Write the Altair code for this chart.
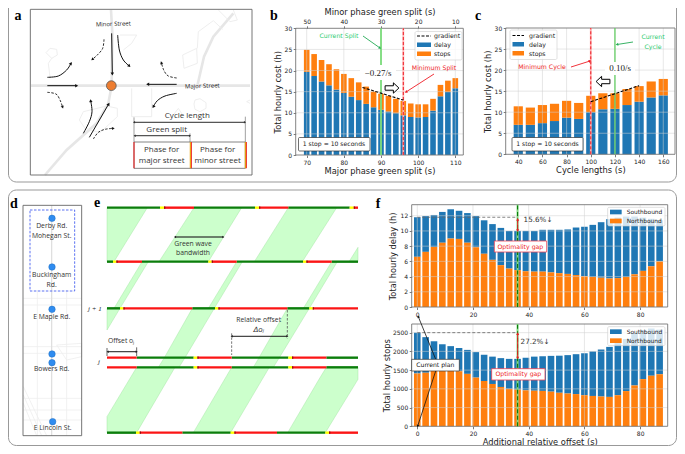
import math
import altair as alt
import pandas as pd

# ---------- chart values ----------
b_major = [70, 72, 74, 76, 78, 80, 82, 84, 86, 88, 90, 92, 94, 96, 98, 100, 102, 104, 106, 108, 110]
b_delay = [19.7, 18.7, 17.4, 16.5, 15.5, 14.7, 13.8, 13.0, 12.1, 11.3, 10.7, 10.3, 9.9, 9.4, 9.0, 8.9, 9.0, 10.5, 13.9, 14.9, 15.8]
b_total = [24.9, 23.9, 22.5, 21.5, 20.3, 19.2, 18.2, 17.2, 16.2, 15.0, 14.5, 14.0, 13.3, 12.8, 12.2, 12.0, 12.0, 13.3, 16.6, 17.6, 18.2]
b_minor_ticks = [50, 40, 30, 20, 10]
b_grad_x = [85, 96]
b_grad_y = [16.0, 13.0]

c_cycle = [40, 50, 60, 70, 80, 90, 100, 110, 120, 130, 140, 150, 160]
c_delay = [7.0, 7.0, 7.4, 7.9, 8.7, 8.4, 10.0, 10.7, 10.8, 11.7, 12.5, 13.5, 14.0]
c_total = [11.4, 11.1, 11.7, 12.0, 12.7, 12.2, 13.9, 14.5, 14.5, 15.5, 16.2, 17.3, 17.9]
c_grad_x = [100, 140]
c_grad_y = [12.5, 16.3]

f_offset = [0, 3, 6, 9, 12, 15, 18, 21, 24, 27, 30, 33, 36, 39, 42, 45, 48, 51, 54, 57, 60, 63, 66, 69, 72, 75, 78, 81, 84, 87]
f_delay_total = [11.8, 11.95, 12.1, 12.5, 12.85, 12.65, 12.35, 11.95, 11.4, 10.9, 10.4, 10.0, 10.0, 10.0, 10.0, 10.15, 10.15, 10.15, 10.2, 10.45, 10.55, 10.8, 11.15, 11.55, 11.75, 11.9, 11.9, 11.75, 11.6, 11.4]
f_delay_north = [6.6, 7.25, 7.9, 8.45, 9.0, 8.95, 8.45, 7.85, 7.0, 6.2, 5.5, 5.05, 4.85, 4.7, 4.65, 4.65, 4.55, 4.45, 4.35, 4.2, 4.05, 3.95, 3.85, 3.75, 3.8, 3.95, 4.3, 4.75, 5.35, 6.0]
f_stops_total = [2500, 2380, 2270, 2190, 2140, 2090, 2040, 1980, 1910, 1860, 1820, 1800, 1800, 1830, 1860, 1870, 1880, 1885, 1900, 1925, 1950, 2000, 2050, 2120, 2220, 2330, 2480, 2570, 2610, 2580]
f_stops_north = [1410, 1430, 1480, 1490, 1480, 1470, 1400, 1300, 1210, 1130, 1050, 1000, 980, 960, 950, 945, 925, 895, 875, 860, 830, 810, 795, 785, 830, 940, 1090, 1260, 1350, 1390]

# ---------- styles ----------
BLUE, ORANGE = "#1f77b4", "#ff7f0e"
SANS, HUM, SERIF = "DejaVu Sans", "Open Sans", "Liberation Serif"
FRAME = "#777777"
W, H, M = 669, 438, 8

# The figure's schematic parts share one scale in picture pixels.
DX = alt.Scale(domain=[0, 685], range=[-M, 685 - M], nice=False, zero=False)
DY = alt.Scale(domain=[0, 454], range=[-M, 454 - M], nice=False, zero=False)
layers = []


def ex(f="x"):
    return alt.X(f + ":Q", scale=DX, axis=None)


def ey(f="y"):
    return alt.Y(f + ":Q", scale=DY, axis=None)


def rects(rows, fill=None, stroke=None, sw=0.8, opacity=1.0, radius=0, dash=None):
    df = pd.DataFrame(rows, columns=["x", "y", "x2", "y2"])
    kw = dict(fillOpacity=opacity if fill else 0, fill=fill or "#ffffff", cornerRadius=radius, strokeWidth=sw)
    if stroke:
        kw["stroke"] = stroke
    if dash:
        kw["strokeDash"] = dash
    layers.append(alt.Chart(df).mark_rect(**kw).encode(x=ex(), y=ey(), x2="x2:Q", y2="y2:Q"))


def lines(paths, color="#000000", sw=1.0, dash=None, interp="linear", opacity=1.0):
    rows = []
    for k, p in enumerate(paths):
        for i, (x, y) in enumerate(p):
            rows.append(dict(k=k, i=i, x=x, y=y))
    kw = dict(color=color, strokeWidth=sw, interpolate=interp, opacity=opacity)
    if dash:
        kw["strokeDash"] = dash
    layers.append(alt.Chart(pd.DataFrame(rows)).mark_line(**kw).encode(
        x=ex(), y=ey(), detail="k:N", order="i:Q"))


def heads(pairs, color="#000000", size=12):
    rows = []
    for (x0, y0), (x1, y1) in pairs:
        a = math.degrees(math.atan2(x1 - x0, -(y1 - y0))) % 360
        rows.append(dict(x=x1, y=y1, a=a))
    layers.append(alt.Chart(pd.DataFrame(rows)).mark_point(
        shape="triangle-up", filled=True, color=color, size=size, opacity=1).encode(
        x=ex(), y=ey(), angle=alt.Angle("a:Q", scale=None)))


def arrow(paths, color="#000000", sw=0.9, size=12, dash=None, interp="linear"):
    lines(paths, color, sw, dash, interp)
    heads([(p[-2], p[-1]) for p in paths], color, size)


def texts(rows, size=7, color="#222222", font=SANS, align="center", **kw):
    df = pd.DataFrame(rows, columns=["x", "y", "t"])
    layers.append(alt.Chart(df).mark_text(fontSize=size, color=color, font=font, align=align,
                                          baseline="middle", **kw).encode(x=ex(), y=ey(), text="t:N"))


def hollow(x, y, angle):
    path = "M-1,-0.32 L0.2,-0.32 L0.2,-0.75 L1,0 L0.2,0.75 L0.2,0.32 L-1,0.32 Z"
    df = pd.DataFrame([dict(x=x, y=y, a=angle)])
    layers.append(alt.Chart(df).mark_point(shape=path, fill="#ffffff", stroke="#000000", strokeWidth=1.0,
                                           size=190, opacity=1, filled=False, fillOpacity=1).encode(
        x=ex(), y=ey(), angle=alt.Angle("a:Q", scale=None)))


def sc(d0, d1, p0, p1, off):
    return alt.Scale(domain=[d0, d1], range=[p0 - off, p1 - off], nice=False, zero=False, padding=0)


def bars(xs, lo, hi, color, sx, sy, width, xaxis=None, yaxis=None):
    df = pd.DataFrame(dict(v=xs, lo=lo, hi=hi))
    layers.append(alt.Chart(df).mark_bar(size=width, color=color).encode(
        x=alt.X("v:Q", scale=sx, axis=xaxis), y=alt.Y("hi:Q", scale=sy, axis=yaxis), y2="lo:Q"))


def grid(sx, sy, xt, yt, xd, yd):
    dfx = pd.DataFrame(dict(t=xt, lo=yd[0], hi=yd[1]))
    dfy = pd.DataFrame(dict(t=yt, lo=xd[0], hi=xd[1]))
    g = dict(color="#d0d0d0", strokeWidth=0.8, opacity=0.65)
    layers.append(alt.Chart(dfx).mark_rule(**g).encode(
        x=alt.X("t:Q", scale=sx, axis=None), y=alt.Y("lo:Q", scale=sy, axis=None), y2="hi:Q"))
    layers.append(alt.Chart(dfy).mark_rule(**g).encode(
        y=alt.Y("t:Q", scale=sy, axis=None), x=alt.X("lo:Q", scale=sx, axis=None), x2="hi:Q"))


def vrule(v, sx, sy, yd, color, sw, dash=None, opacity=1.0):
    kw = dict(color=color, strokeWidth=sw, opacity=opacity)
    if dash:
        kw["strokeDash"] = dash
    df = pd.DataFrame(dict(v=[v], lo=[yd[0]], hi=[yd[1]]))
    layers.append(alt.Chart(df).mark_rule(**kw).encode(
        x=alt.X("v:Q", scale=sx, axis=None), y=alt.Y("lo:Q", scale=sy, axis=None), y2="hi:Q"))


def data_line(xs, ys, sx, sy, color, sw, dash=None):
    kw = dict(color=color, strokeWidth=sw)
    if dash:
        kw["strokeDash"] = dash
    layers.append(alt.Chart(pd.DataFrame(dict(x=xs, y=ys))).mark_line(**kw).encode(
        x=alt.X("x:Q", scale=sx, axis=None), y=alt.Y("y:Q", scale=sy, axis=None)))


def ax(orient, title, values, offset, pad, fsize=8.3):
    return alt.Axis(orient=orient, title=title, values=values, offset=offset, grid=False, domain=False,
                    tickColor="#444444", tickSize=2.5, tickWidth=0.7, labelFontSize=6.0, labelFont=SANS,
                    labelColor="#222222", labelPadding=1.5, labelOverlap=False, labelFlush=False,
                    titleFontSize=fsize, titleFont=SANS, titleFontWeight="normal", titleColor="#222222",
                    titlePadding=pad, format="d")


def legend_box(x0, y0, x1, y1):
    rects([(x0, y0, x1, y1)], fill="#ffffff", stroke="#cccccc", sw=0.6, opacity=0.8, radius=1.5)


# ---------- outer frames ----------
rects([(8.5, -6, 676.5, 182)], stroke="#999999", sw=1.0, radius=8)
rects([(8.5, 190, 676.5, 445.5)], stroke="#999999", sw=1.0, radius=8)
texts([(18, 16, "a"), (274, 16, "b"), (478, 16, "c"), (14, 204, "d"), (97, 203, "e"), (378, 204, "f")],
      size=14, color="#000000", font=SERIF, fontWeight="bold")


# ---------- panel a ----------
def A(pts):
    return [(x / 3, y / 3) for x, y in pts]


ROAD = "#e6e6e6"
lines([A([(93, 257), (750, 257)]),
       A([(333, 30), (337, 100), (335, 257), (325, 310), (290, 370), (200, 450), (135, 525)]),
       A([(700, 40), (640, 110), (612, 170), (592, 257)])], ROAD, 2.6)
lines([A([(150, 232), (145, 190), (155, 175), (172, 165), (170, 148), (150, 145), (138, 158), (155, 175)]),
       A([(592, 190), (552, 205), (548, 165), (590, 145), (592, 190)]),
       A([(592, 145), (595, 95), (640, 62), (668, 88)]),
       A([(395, 265), (395, 350), (455, 350), (455, 265)]),
       A([(585, 300), (600, 296), (618, 308), (618, 325), (600, 335), (585, 328), (582, 312), (585, 300)]),
       A([(520, 345), (535, 325), (548, 345)]),
       A([(238, 360), (250, 335), (320, 318), (352, 325), (352, 350), (300, 398), (255, 385), (238, 360)]),
       A([(360, 105), (410, 105), (395, 130), (370, 150)]),
       A([(655, 30), (690, 65), (712, 60), (700, 30)]),
       A([(750, 310), (740, 305), (750, 300)])], "#ececec", 0.9)
rects([A([(91, 28), (756, 525)])[0] + A([(91, 28), (756, 525)])[1]], stroke="#666666", sw=0.9)
a_solid = [A([(335, 100), (337, 222)]),
           A([(142, 257), (230, 257)]),
           A([(530, 253), (443, 253)]),
           A([(268, 412), (326, 312)])]
a_curve = [A([(353, 105), (358, 150), (370, 180), (388, 198)]),
           A([(142, 232), (175, 228), (200, 210), (213, 190)]),
           A([(530, 280), (495, 288), (472, 302), (460, 320)]),
           A([(250, 400), (268, 365), (276, 335), (272, 302)])]
a_dash = [A([(312, 118), (308, 145), (292, 165), (277, 178)]),
          A([(142, 277), (168, 282), (180, 300), (188, 322)]),
          A([(530, 234), (505, 228), (492, 212), (484, 188)]),
          A([(280, 417), (295, 397), (315, 388), (340, 385)])]
arrow(a_solid, "#111111", 1.0, 12)
arrow(a_curve, "#111111", 1.0, 12, interp="cardinal")
arrow(a_dash, "#111111", 0.9, 10, dash=[2.5, 1.5], interp="cardinal")
layers.append(alt.Chart(pd.DataFrame(dict(x=[334 / 3], y=[257 / 3]))).mark_point(
    filled=True, fill="#ed7d31", stroke="#555555", strokeWidth=0.8, size=95, opacity=1).encode(x=ex(), y=ey()))
texts([(340 / 3, 72 / 3, "Minor Street"), (607 / 3, 258 / 3, "Major Street")], size=6, color="#222222", font=HUM, angle=358)
texts([(562 / 3, 349 / 3, "Cycle length"), (500 / 3, 389 / 3, "Green split"),
       (485 / 3, 449 / 3, "Phase for"), (485 / 3, 484 / 3, "major street"),
       (653 / 3, 449 / 3, "Phase for"), (653 / 3, 484 / 3, "minor street")], size=8, color="#333333", font=HUM)
lines([A([(402, 352), (402, 426)]), A([(736, 350), (736, 426)]), A([(570, 400), (570, 426)])], "#888888", 0.8)
arrow([A([(402, 367), (735, 367)]), A([(735, 367), (402, 367)]),
       A([(404, 407), (570, 407)]), A([(570, 407), (404, 407)])], "#333333", 0.7, 6)
rects([A([(402, 426), (736, 505)])[0] + A([(402, 426), (736, 505)])[1]], stroke="#666666", sw=0.8)
lines([A([(402, 426), (402, 505)]), A([(574, 426), (574, 505)]), A([(739, 426), (739, 505)])], "#ee2222", 1.1)
lines([A([(571, 426), (571, 505)]), A([(736, 426), (736, 505)])], "#e8a000", 1.1)


# ---------- panel b ----------
bx0, bx1, by0, by1 = 295.7, 463.3, 28.3, 155.0
bxd = [67.04, 112.15]
byd = [0, 30]
sxb = sc(bxd[0], bxd[1], bx0, bx1, M)
syb = sc(byd[0], byd[1], by1, by0, M)
bars(b_major, [0] * 21, b_delay, BLUE, sxb, syb, 5.6,
     ax("bottom", "Major phase green split (s)", [70, 80, 90, 100, 110], -(H - (by1 - M)), 1.5),
     ax("left", "Total hourly cost (h)", [0, 5, 10, 15, 20, 25, 30], -(bx0 - M), 2))
bars(b_major, b_delay, b_total, ORANGE, sxb, syb, 5.6)
grid(sxb, syb, [70, 80, 90, 100, 110], [5, 10, 15, 20, 25], bxd, byd)
rects([(bx0, by0, bx1, by1)], stroke=FRAME, sw=0.9)
sxbt = sc(120 - bxd[0], 120 - bxd[1], bx0, bx1, M)
layers.append(alt.Chart(pd.DataFrame(dict(v=b_minor_ticks))).mark_point(opacity=0).encode(
    x=alt.X("v:Q", scale=sxbt, axis=ax("top", "Minor phase green split (s)", b_minor_ticks, -(by0 - M), 1.5)),
    y=alt.value(0)))
vrule(90, sxb, syb, byd, "#7bdc7b", 1.8)
vrule(96, sxb, syb, byd, "#ffb0b0", 1.8)
vrule(96, sxb, syb, byd, "#ee1c25", 1.0, [3, 2])
data_line(b_grad_x, b_grad_y, sxb, syb, "#000000", 1.1, [3, 1.5])
rects([(360, 65, 396, 80)], fill="#ffffff")
texts([(378, 73, "−0.27/s")], size=9, color="#222222", font=SERIF)
hollow(392, 88, 0)
texts([(339, 36, "Current Split")], size=6.2, color="#2ecc71")
arrow([[(363, 36), (380, 48)]], "#22aa55", 0.9, 9)
texts([(434, 68, "Minimum Split")], size=6.2, color="#ee1c25")
arrow([[(434, 74), (406, 92)]], "#ee1c25", 0.9, 10)
rects([(298.5, 137.5, 370, 151)], fill="#ffffff", stroke="#333333", sw=0.7, radius=1)
texts([(334, 144.3, "1 stop = 10 seconds")], size=6.1)
legend_box(415, 31.5, 462, 60)
lines([[(417, 36), (431, 36)]], "#000000", 1.2, [3, 1.5])
rects([(417, 42.5, 431, 47)], fill=BLUE)
rects([(417, 51.5, 431, 56)], fill=ORANGE)
texts([(434, 36, "gradient"), (434, 45, "delay"), (434, 54, "stops")], size=6.2, align="left")


# ---------- panel c ----------
cx0, cx1, cy0, cy1 = 505.7, 675.0, 28.0, 154.3
cxd = [29.6, 169.7]
cyd = [0, 30]
sxc = sc(cxd[0], cxd[1], cx0, cx1, M)
syc = sc(cyd[0], cyd[1], cy1, cy0, M)
bars(c_cycle, [0] * 13, c_delay, BLUE, sxc, syc, 9.2,
     ax("bottom", "Cycle lengths (s)", [40, 60, 80, 100, 120, 140, 160], -(H - (cy1 - M)), 1.5),
     ax("left", "Total hourly cost (h)", [0, 5, 10, 15, 20, 25, 30], -(cx0 - M), 2))
bars(c_cycle, c_delay, c_total, ORANGE, sxc, syc, 9.2)
grid(sxc, syc, [40, 60, 80, 100, 120, 140, 160], [5, 10, 15, 20, 25], cxd, cyd)
rects([(cx0, cy0, cx1, cy1)], stroke=FRAME, sw=0.9)
vrule(120, sxc, syc, cyd, "#66d066", 1.3)
vrule(100, sxc, syc, cyd, "#ffb0b0", 1.8)
vrule(100, sxc, syc, cyd, "#ee1c25", 1.0, [3, 2])
data_line(c_grad_x, c_grad_y, sxc, syc, "#000000", 1.1, [3, 1.5])
rects([(605, 62, 635, 75)], fill="#ffffff")
texts([(620, 68, "0.10/s")], size=9, font=SERIF)
hollow(603, 81.5, 180)
texts([(653, 37, "Current"), (653, 47, "Cycle")], size=6.2, color="#2ecc71")
arrow([[(633, 42), (617, 44.5)]], "#22aa55", 0.9, 9)
texts([(542, 67, "Minimum Cycle")], size=6.2, color="#ee1c25")
arrow([[(571, 67), (590, 61)]], "#ee1c25", 0.9, 10)
rects([(512, 137.5, 583, 151)], fill="#ffffff", stroke="#333333", sw=0.7, radius=1)
texts([(547.5, 144.3, "1 stop = 10 seconds")], size=6.1)
legend_box(510, 30, 557, 59.5)
lines([[(512.5, 35.5), (524, 35.5)]], "#000000", 1.2, [3, 1.5])
rects([(512.5, 42, 524, 46.5)], fill=BLUE)
rects([(512.5, 51, 524, 55.5)], fill=ORANGE)
texts([(529, 35.5, "gradient"), (529, 44.5, "delay"), (529, 53.5, "stops")], size=6.2, align="left")


# ---------- panel d ----------
def D(pts):
    return [(x / 3, y / 3 + 190) for x, y in pts]


lines([D([(70, y), (245, y)]) for y in (325, 345, 470, 490, 625, 660, 690)] +
      [D([(x, 300), (x, 737)]) for x in (112, 200)] +
      [D([(70, 590), (140, 737)]), D([(70, 615), (125, 737)]), D([(70, 640), (110, 737)]),
       D([(170, 465), (245, 460), (245, 500), (200, 510), (170, 465)])], "#eeeeee", 0.8)
lines([D([(155, 46), (155, 737)])], "#dddddd", 1.2)
rects([D([(69, 46), (245, 737)])[0] + D([(69, 46), (245, 737)])[1]], stroke="#666666", sw=0.9)
rects([D([(90, 60), (224, 303)])[0] + D([(90, 60), (224, 303)])[1]], stroke="#4a63f0", sw=0.9, dash=[2.5, 1.5])
d_pts = D([(156, 85), (156, 231), (156, 358), (156, 492), (156, 518), (158, 695)])
layers.append(alt.Chart(pd.DataFrame(d_pts, columns=["x", "y"])).mark_point(
    filled=True, fill="#2f8cf0", stroke="#1f6fc0", strokeWidth=0.5, size=42, opacity=1).encode(x=ex(), y=ey()))
d_labels = [(155, 108, "Derby Rd."), (155, 137, "Mohegan St."), (155, 255, "Buckingham"), (155, 284, "Rd."),
            (155, 380, "E Maple Rd."), (155, 538, "Bowers Rd."), (158, 715, "E Lincoln St.")]
texts([(x / 3, y / 3 + 190, t) for x, y, t in d_labels], size=6.8, color="#333333", font=HUM)


# ---------- panel e ----------
def E(pts):
    return [(x / 3 + 95, y / 3 + 190) for x, y in pts]


def band(rows):
    """Each band: rows of zoomed y, left x, right x, drawn as a filled symbol around its first corner."""
    out = []
    for r in rows:
        left = [(a, y) for y, a, b in r]
        right = [(b, y) for y, a, b in reversed(r)]
        pts = E(left + right)
        x0, y0 = pts[0]
        path = "M" + " L".join(f"{x - x0:.2f},{y - y0:.2f}" for x, y in pts) + " Z"
        out.append(dict(x=x0, y=y0, p=path))
    layers.append(alt.Chart(pd.DataFrame(out)).mark_point(
        fill="#ccffcc", stroke="#9be09b", strokeWidth=0.4, size=4, opacity=1, fillOpacity=1, filled=False).encode(
        x=ex(), y=ey(), shape=alt.Shape("p:N", scale=None)))


band([
    [(53, 36, 157), (215, 36, 57)],
    [(53, 297, 440), (215, 192, 340)],
    [(53, 580, 725), (215, 478, 622)],
    [(172, 789, 789), (215, 762, 789)],
    [(215, 141, 160), (355, 57, 75)],
    [(215, 425, 442), (355, 340, 358)],
    [(215, 710, 727), (355, 625, 643)],
    [(355, 36, 75), (420, 36, 36)],
    [(355, 292, 358), (503, 208, 270)],
    [(355, 577, 643), (503, 492, 553)],
    [(503, 208, 270), (532, 190, 252)],
    [(503, 492, 553), (532, 475, 535)],
    [(532, 125, 240), (680, 36, 153), (728, 36, 125)],
    [(532, 410, 523), (728, 295, 407)],
    [(532, 694, 789), (568, 672, 789), (728, 578, 691)],
])

e_rows = {
    53: [("g", 36, 195), ("y", 195, 207), ("r", 207, 297), ("g", 297, 480), ("y", 480, 492), ("r", 492, 580),
         ("g", 580, 764), ("y", 764, 776), ("r", 776, 789)],
    215: [("g", 36, 54), ("y", 54, 64), ("r", 64, 141), ("g", 141, 340), ("y", 340, 350), ("r", 350, 425),
          ("g", 425, 624), ("y", 624, 634), ("r", 634, 710), ("g", 710, 789)],
    355: [("g", 36, 75), ("y", 75, 85), ("r", 85, 292), ("g", 292, 360), ("y", 360, 370), ("r", 370, 577),
          ("g", 577, 643), ("y", 643, 653), ("r", 653, 789)],
    503: [("r", 36, 125), ("g", 125, 296), ("y", 296, 307), ("r", 307, 410), ("g", 410, 580), ("y", 580, 591),
          ("r", 591, 694), ("g", 694, 789)],
    532: [("r", 36, 125), ("g", 125, 296), ("y", 296, 307), ("r", 307, 410), ("g", 410, 580), ("y", 580, 591),
          ("r", 591, 694), ("g", 694, 789)],
    728: [("g", 36, 123), ("y", 123, 134), ("r", 134, 262), ("g", 262, 407), ("y", 407, 418), ("r", 418, 546),
          ("g", 546, 691), ("y", 691, 702), ("r", 702, 789)],
}
for code, col in (("g", "#0b7d0b"), ("r", "#fb1515"), ("y", "#ffff00")):
    segs = []
    for y, row in e_rows.items():
        for c, a, b in row:
            if c == code:
                p = E([(a, y), (b, y)])
                segs.append((p[0][0], p[0][1] - 1.2, p[1][0], p[1][1] + 1.2))
    rects(segs, fill=col)
dark = []
for y, row in e_rows.items():
    for c, a, b in row:
        if c == "y":
            p = E([(b, y), (b + 4, y)])
            dark.append((p[0][0], p[0][1] - 1.2, p[1][0], p[1][1] + 1.2))
rects(dark, fill="#8b1010")

texts([(x / 3 + 95, y / 3 + 190, t) for x, y, t in [
    (294, 161, "Green wave"), (294, 190, "bandwidth"), (491, 389, "Relative offset")]],
      size=6.8, color="#333333", font=HUM)
texts([(491 / 3 + 95, 421 / 3 + 190, "Δoⱼ")], size=7.2, color="#333333", font=SANS, fontStyle="italic")
texts([(39 / 3 + 95, 453 / 3 + 190, "Offset oⱼ")], size=6.8, color="#333333", font=HUM, align="left")
texts([(88, 308.5, "j + 1"), (98, 362, "j")], size=7, color="#222222", font=SERIF, fontStyle="italic", align="left")
arrow([E([(240, 141), (385, 141)]), E([(385, 141), (240, 141)]),
       E([(410, 439), (577, 439)]), E([(577, 439), (410, 439)]),
       E([(38, 485), (125, 485)]), E([(125, 485), (38, 485)])], "#222222", 0.7, 6)
lines([E([(36, 474), (36, 498)]), E([(125, 472), (125, 498)])], "#222222", 0.7)
lines([E([(410, 430), (410, 495)]), E([(577, 360), (577, 445)])], "#555555", 0.8, [2.5, 1.5])


# ---------- panel f ----------
fx0, fx1 = 411.7, 667.7
fxd = [-2.0, 89.9]
xt = [0, 20, 40, 60, 80]


def f_panel(y0, y1, yd, yt, total, north, title, xaxis_title, pad):
    sx = sc(fxd[0], fxd[1], fx0, fx1, M)
    sy = sc(yd[0], yd[1], y1, y0, M)
    bars(f_offset, north, total, BLUE, sx, sy, 6.6)
    bars(f_offset, [0] * 30, north, ORANGE, sx, sy, 6.6,
         ax("bottom", xaxis_title, xt, -(H - (y1 - M)), 1.5),
         ax("left", title, yt, -(fx0 - M), pad, 8.3))
    grid(sx, sy, xt, yt[1:], fxd, yd)
    rects([(fx0, y0, fx1, y1)], stroke=FRAME, sw=0.9)
    vrule(36, sx, sy, yd, "#80d880", 2.0)
    vrule(36, sx, sy, yd, "#0b7d0b", 1.1, [4, 2.5])
    return sx, sy


sx1, sy1 = f_panel(204.7, 307.0, [0, 13.45], [0, 2, 4, 6, 8, 10, 12], f_delay_total, f_delay_north,
                   "Total hourly delay (h)", None, 2.5)
data_line([0, 36], [f_delay_total[0], f_delay_total[0]], sx1, sy1, "#666666", 0.8, [3, 2])
sx2, sy2 = f_panel(324.0, 426.3, [0, 2731], [0, 500, 1000, 1500, 2000, 2500], f_stops_total, f_stops_north,
                   "Total hourly stops", "Additional relative offset (s)", 1)
data_line([0, 36], [f_stops_total[0], f_stops_total[0]], sx2, sy2, "#666666", 0.8, [3, 2])


def F1(pts):
    return [(x / 3 + 370, y / 3 + 190) for x, y in pts]


def F2(pts):
    return [(x / 3 + 370, y / 3 + 320) for x, y in pts]


arrow([F1([(443, 105), (443, 88)]), F1([(443, 105), (443, 122)]),
       F2([(443, 78), (443, 41)]), F2([(443, 78), (443, 114)])], "#ee1c25", 1.0, 9)
texts([(538, 219.5, "15.6%↓")], size=7.2, color="#333333", align="center")
texts([(535, 342, "27.2%↓")], size=7.2, color="#333333", align="center")
rects([F1([(373, 153), (530, 186)])[0] + F1([(373, 153), (530, 186)])[1],
       F2([(365, 146), (525, 180)])[0] + F2([(365, 146), (525, 180)])[1]], fill="#ffffff", stroke="#ee4455", sw=0.8)
texts([(451 / 3 + 370, 170 / 3 + 190, "Optimality gap"), (445 / 3 + 370, 163 / 3 + 320, "Optimality gap")],
      size=6.2, color="#ee1c25")
arrow([[(435.7, 359.3), (418.3, 316.7)], [(435.7, 371), (417.7, 426)]], "#111111", 0.8, 8)
rects([F2([(125, 118), (268, 153)])[0] + F2([(125, 118), (268, 153)])[1]], fill="#ffffff", stroke="#333333", sw=0.7)
texts([(196 / 3 + 370, 136 / 3 + 320, "Current plan")], size=6.1, color="#111111")
for conv, ys in ((F1, (52, 108, 66, 93)), (F2, (20, 77, 35, 62))):
    p = conv([(713, ys[0]), (885, ys[1])])
    legend_box(p[0][0], p[0][1], p[1][0], p[1][1])
    a = conv([(720, ys[2] - 7), (755, ys[2] + 7)])
    b = conv([(720, ys[3] - 7), (755, ys[3] + 7)])
    rects([a[0] + a[1]], fill=BLUE)
    rects([b[0] + b[1]], fill=ORANGE)
    t1 = conv([(770, ys[2])])[0]
    t2 = conv([(770, ys[3])])[0]
    texts([(t1[0], t1[1], "Southbound"), (t2[0], t2[1], "Northbound")], size=5.9, align="left")

chart = alt.layer(*layers).resolve_scale(x="independent", y="independent").properties(
    width=W, height=H, padding=0, autosize=alt.AutoSizeParams(type="none"), background="#ffffff"
).configure_view(stroke=None)

chart.save("out.html", embed_options={"renderer": "svg", "actions": False})
